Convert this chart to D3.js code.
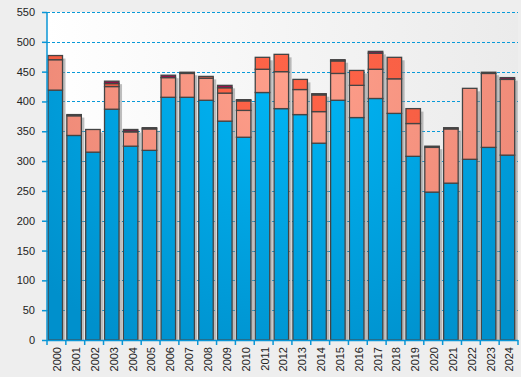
<!DOCTYPE html>
<html><head><meta charset="utf-8">
<script src="https://cdn.jsdelivr.net/npm/d3@7"></script>
<style>body{margin:0;background:#eeeeee;}svg{display:block;}</style>
</head><body>
<svg id="c" width="521" height="377"></svg>
<script>
const years = ["2000","2001","2002","2003","2004","2005","2006","2007","2008","2009","2010","2011","2012","2013","2014","2015","2016","2017","2018","2019","2020","2021","2022","2023","2024"];
const seriesA = [419,343,315,387,325,318,407,407,402,367,340,415,388,378,330,402,373,405,380,308,248,263,303,323,310];
const seriesB = [51,33,38,38,24,36,33,40,37,47,45,39,62,42,53,45,54,49,58,55,75,91,119,124,127];
const seriesC = [7,0,0,5,1,0,0,0,3,9,16,20,29,17,28,21,25,27,36,25,0,0,0,0,0];
const seriesD = [0,2,0,4,3,2,4,2,0,4,2,0,0,0,2,2,0,3,0,0,2,2,0,2,3];
const yTicks = [0,50,100,150,200,250,300,350,400,450,500,550];

const svg = d3.select("#c");
const pL = 47, pR = 518, pT = 12, pB = 340;

const defs = svg.append("defs");
const bg = defs.append("linearGradient").attr("id","bgG").attr("x1","0").attr("y1","0").attr("x2","1").attr("y2","0");
bg.append("stop").attr("offset","0").attr("stop-color","#ffffff");
bg.append("stop").attr("offset","1").attr("stop-color","#ebebeb");

const palettes = [
  ["#00b8f8","#0090cc"],
  ["#ffa08c","#ea8472"],
  ["#ff6448","#ee5a40"],
  ["#a0104e","#8a0a40"]
];
palettes.forEach((p,i)=>{
  const g = defs.append("radialGradient").attr("id","sg"+i).attr("gradientUnits","userSpaceOnUse")
    .attr("cx",290).attr("cy",60).attr("r",330);
  g.append("stop").attr("offset","0").attr("stop-color",p[0]);
  g.append("stop").attr("offset","1").attr("stop-color",p[1]);
});

svg.append("rect").attr("x",pL).attr("y",pT).attr("width",pR-pL).attr("height",pB-pT).attr("fill","url(#bgG)");

const x = d3.scaleBand().domain(years).range([pL,pR]).padding(0);
const y = d3.scaleLinear().domain([0,550]).range([pB,pT]);

// grid
svg.append("g").selectAll("line").data(yTicks.filter(t=>t>0)).join("line")
  .attr("x1",pL).attr("x2",pR).attr("y1",d=>Math.round(y(d))+0.5).attr("y2",d=>Math.round(y(d))+0.5)
  .attr("stroke","#0a9ad8").attr("stroke-width",1).attr("stroke-dasharray","3,2");

const rows = years.map((yr,i)=>({year:yr,A:seriesA[i],B:seriesB[i],C:seriesC[i],D:seriesD[i]}));
const stack = d3.stack().keys(["A","B","C","D"])(rows);
const bw = x.step()*0.77;

// shadows
svg.append("g").selectAll("rect").data(rows).join("rect")
  .attr("x",d=>x(d.year)+1+3).attr("width",bw)
  .attr("y",d=>y(d.A+d.B+d.C+d.D)+3).attr("height",d=>pB-y(d.A+d.B+d.C+d.D)-3)
  .attr("fill","#888").attr("opacity",0.55);

stack.forEach((s,i)=>{
  svg.append("g").selectAll("rect").data(s.filter(d=>d[1]-d[0]>0)).join("rect")
    .attr("x",d=>x(d.data.year)+1).attr("width",bw)
    .attr("y",d=>y(d[1])).attr("height",d=>y(d[0])-y(d[1]))
    .attr("fill","url(#sg"+i+")").attr("stroke","#444").attr("stroke-width",1.3);
});

// y axis
const ya = svg.append("g").attr("transform",`translate(${pL},0)`)
  .call(d3.axisLeft(y).tickValues(yTicks).tickSize(5).tickPadding(7));
ya.select(".domain").attr("stroke","#0a96d6").attr("stroke-width",1.5).attr("d",`M0,${pT}V${pB}`);
ya.selectAll(".tick line").attr("stroke","#0a96d6").attr("stroke-width",1.5);
ya.selectAll("text").attr("font-family","Liberation Sans, Arial, sans-serif").attr("font-size","11px").attr("fill","#222");

// x axis
const xa = svg.append("g").attr("transform",`translate(0,${pB})`);
xa.append("line").attr("x1",pL).attr("x2",pR).attr("y1",0.5).attr("y2",0.5).attr("stroke","#0a96d6").attr("stroke-width",1.5);
const bounds = years.map(d=>x(d)).concat([pR]);
xa.selectAll("line.t").data(bounds).join("line").attr("class","t")
  .attr("x1",d=>d).attr("x2",d=>d).attr("y1",0).attr("y2",5).attr("stroke","#0a96d6").attr("stroke-width",1.5);
xa.selectAll("text").data(years).join("text")
  .attr("transform",d=>`translate(${x(d)+x.bandwidth()/2+1},7) rotate(-90)`)
  .attr("text-anchor","end").attr("dy","0.35em")
  .attr("font-family","Liberation Sans, Arial, sans-serif").attr("font-size","11px").attr("fill","#222")
  .text(d=>d);
</script>
</body></html>
